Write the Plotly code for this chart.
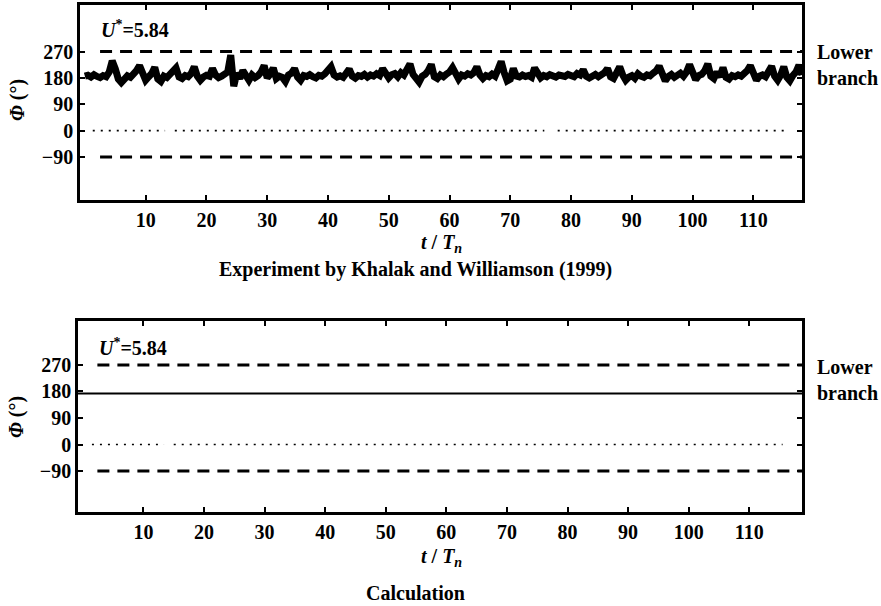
import plotly.graph_objects as go

# ---------------- data ----------------
# Experiment (Khalak & Williamson 1999): phase angle, sampled every 0.5 t/Tn
t_step = 0.5
phase_exp = [
    186, 189, 183, 191, 185, 181, 188, 184, 200, 238,
    212, 176, 164, 180, 187, 182, 191, 205, 222, 190,
    172, 184, 195, 216, 176, 168, 186, 181, 190, 205,
    214, 183, 178, 188, 184, 195, 218, 186, 172, 183,
    189, 186, 212, 190, 181, 186, 192, 200, 258, 152,
    196, 178, 205, 186, 172, 190, 181, 188, 200, 222,
    180, 193, 214, 178, 186, 182, 168, 190, 196, 212,
    183, 172, 188, 185, 191, 184, 180, 189, 186, 194,
    205, 218, 190, 183, 187, 182, 196, 210, 186, 179,
    188, 185, 192, 183, 190, 186, 194, 188, 212, 196,
    180, 191, 195, 184, 198, 190, 205, 228, 192, 178,
    166, 186, 192, 205, 226, 184, 178, 190, 184, 193,
    200, 215, 188, 176, 190, 186, 194, 190, 198, 218,
    190, 178, 188, 184, 193, 186, 210, 236, 198, 170,
    176, 212, 186, 183, 190, 185, 188, 182, 214, 192,
    180, 188, 184, 191, 186, 183, 190, 187, 185, 192,
    188, 184, 195, 190, 208, 186, 180, 187, 192, 184,
    190, 198, 212, 184, 178, 206, 218, 190, 172, 183,
    188, 179, 194, 186, 182, 190, 187, 196, 204, 220,
    188, 170, 185, 192, 182, 188, 196, 186, 200, 226,
    190, 174, 188, 192, 205, 228, 186, 178, 200, 184,
    215, 182, 176, 188, 184, 190, 186, 194, 205, 222,
    188, 172, 186, 190, 184, 198, 220, 186, 172, 190,
    218, 182, 170, 188, 200, 224, 190,
]
t_exp = [i * t_step for i in range(len(phase_exp))]

# Calculation: constant phase
t_calc = [-0.8, 118.7]
phase_calc = [173, 173]

# Reference lines (branch limits and zero)
ref_dash_levels = [270, -90]
dash_x_top = [2.5, 118.0]
dash_x_bot = [2.4, 118.7]
zero_x_top = [1.3, 13.2, None, 14.8, 75.6, None, 77.8, 115.5]
zero_x_bot = [1.5, 13.4, None, 15.0, 115.5]

x_ticks = [10, 20, 30, 40, 50, 60, 70, 80, 90, 100, 110]
y_ticks = [270, 180, 90, 0, -90]
y_ticktext = ["270", "180", "90", "0", "\u221290"]

label_u = "<i>U</i><sup>*</sup>=5.84"
label_branch = "Lower<br>branch"
x_title = "<i>t</i> / <i>T</i><sub><i>n</i></sub>"
y_title = "<i>\u03a6</i> (°)"
caption_top = "Experiment by Khalak and Williamson (1999)"
caption_bot = "Calculation"

# ---------------- figure ----------------
W, H = 881, 606
FONT = "Liberation Serif"

def px_x(p):
    return p / W

def px_y(p):
    return 1 - p / H

fig = go.Figure()

# top panel
for lvl in ref_dash_levels:
    fig.add_trace(go.Scatter(x=dash_x_top, y=[lvl] * len(dash_x_top), mode="lines",
                             line=dict(color="black", width=3, dash="12px,8px"),
                             xaxis="x", yaxis="y", showlegend=False, hoverinfo="skip"))
fig.add_trace(go.Scatter(x=zero_x_top, y=[0 if v is not None else None for v in zero_x_top],
                         mode="lines", line=dict(color="black", width=1.6, dash="2px,6px"),
                         xaxis="x", yaxis="y", showlegend=False, hoverinfo="skip"))
fig.add_trace(go.Scatter(x=t_exp, y=phase_exp, mode="lines",
                         line=dict(color="black", width=7),
                         xaxis="x", yaxis="y", showlegend=False))

# bottom panel
for lvl in ref_dash_levels:
    fig.add_trace(go.Scatter(x=dash_x_bot, y=[lvl] * len(dash_x_bot), mode="lines",
                             line=dict(color="black", width=3, dash="12px,8px"),
                             xaxis="x2", yaxis="y2", showlegend=False, hoverinfo="skip"))
fig.add_trace(go.Scatter(x=zero_x_bot, y=[0 if v is not None else None for v in zero_x_bot],
                         mode="lines", line=dict(color="black", width=1.6, dash="2px,6px"),
                         xaxis="x2", yaxis="y2", showlegend=False, hoverinfo="skip"))
fig.add_trace(go.Scatter(x=t_calc, y=phase_calc, mode="lines",
                         line=dict(color="black", width=2),
                         xaxis="x2", yaxis="y2", showlegend=False))

tickfont = dict(family=FONT, size=20, color="black", weight="bold")
common_x = dict(tickvals=x_ticks, ticks="inside", ticklen=5, tickwidth=1.5, tickcolor="black",
                showline=True, linecolor="black", linewidth=2.5, mirror="ticks",
                showgrid=False, zeroline=False, tickfont=tickfont)
common_y = dict(tickvals=y_ticks, ticktext=y_ticktext, ticks="inside", ticklen=5, tickwidth=1.5,
                tickcolor="black", showline=True, linecolor="black", linewidth=2.5, mirror="ticks",
                showgrid=False, zeroline=False, tickfont=tickfont)

fig.update_layout(
    width=W, height=H,
    margin=dict(l=0, r=0, t=0, b=0),
    paper_bgcolor="white", plot_bgcolor="white",
    xaxis=dict(domain=[px_x(80), px_x(802)], range=[-0.8, 118.0], anchor="y", **common_x),
    yaxis=dict(domain=[px_y(200), px_y(5)], range=[-237, 429], anchor="x", **common_y),
    xaxis2=dict(domain=[px_x(78), px_x(802)], range=[-0.8, 118.7], anchor="y2", **common_x),
    yaxis2=dict(domain=[px_y(512), px_y(321)], range=[-229, 419], anchor="x2", **common_y),
)

bold = dict(family=FONT, size=20, color="black", weight="bold")
ann = []
# U* labels
ann.append(dict(x=px_x(99), y=px_y(29), text=label_u, xanchor="left", yanchor="middle"))
ann.append(dict(x=px_x(97), y=px_y(347), text=label_u, xanchor="left", yanchor="middle"))
# Lower branch
ann.append(dict(x=px_x(815), y=px_y(65), text=label_branch, xanchor="left", yanchor="middle", align="left"))
ann.append(dict(x=px_x(815), y=px_y(380), text=label_branch, xanchor="left", yanchor="middle", align="left"))
# y titles
ann.append(dict(x=px_x(17), y=px_y(100), text=y_title, textangle=-90, xanchor="center", yanchor="middle"))
ann.append(dict(x=px_x(17), y=px_y(417), text=y_title, textangle=-90, xanchor="center", yanchor="middle"))
# x titles
ann.append(dict(x=px_x(441), y=px_y(243), text=x_title, xanchor="center", yanchor="middle"))
ann.append(dict(x=px_x(441), y=px_y(557), text=x_title, xanchor="center", yanchor="middle"))
# captions
ann.append(dict(x=px_x(415), y=px_y(269), text=caption_top, xanchor="center", yanchor="middle"))
ann.append(dict(x=px_x(415), y=px_y(593), text=caption_bot, xanchor="center", yanchor="middle"))

for a in ann:
    a.update(xref="paper", yref="paper", showarrow=False, font=bold)
fig.update_layout(annotations=ann)

fig.write_html("out.html")
